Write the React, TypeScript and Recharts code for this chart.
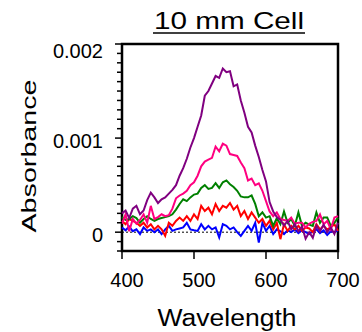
import { LineChart, Line, XAxis, YAxis, ReferenceLine, ReferenceArea } from 'recharts';

// wavelength grid (nm)
const wavelengths = [
  400, 405, 410, 415, 420, 425, 430, 435, 440, 445, 450, 455, 460, 465, 470, 475, 480, 485, 490, 495,
  500, 505, 510, 515, 520, 525, 530, 535, 540, 545, 550, 555, 560, 565, 570, 575, 580, 585, 590, 595,
  600, 605, 610, 615, 620, 625, 630, 635, 640, 645, 650, 655, 660, 665, 670, 675, 680, 685, 690, 695,
  700,
];

// absorbance readings, in units of 0.001
const purple = [
  0.2, 0.23, 0.15, 0.25, 0.28, 0.19, 0.23, 0.34, 0.42, 0.37, 0.31, 0.35, 0.37, 0.41, 0.45, 0.5, 0.6, 0.68, 0.78, 0.9,
  1.0, 1.12, 1.24, 1.45, 1.5, 1.58, 1.66, 1.64, 1.74, 1.7, 1.71, 1.55, 1.57, 1.4, 1.27, 1.12, 1.06, 0.92, 0.8, 0.66,
  0.54, 0.32, 0.22, 0.16, 0.13, 0.07, 0.12, 0.03, 0.085, 0.01, 0.06, -0.07, 0.0, -0.06, 0.07, 0.01, 0.08, 0.0, 0.05, -0.02,
  0.1,
];
const pink = [
  0.09, 0.19, 0.01, 0.14, 0.09, 0.13, 0.19, 0.1, 0.28, 0.14, 0.16, 0.19, 0.17, 0.18, 0.25, 0.36, 0.39, 0.41, 0.44, 0.5,
  0.53, 0.6, 0.7, 0.75, 0.77, 0.79, 0.91, 0.86, 0.94, 0.92, 0.83, 0.82, 0.81, 0.74, 0.68, 0.55, 0.57, 0.5, 0.52, 0.44,
  0.33, 0.22, 0.17, 0.21, 0.14, 0.13, 0.12, 0.155, 0.09, 0.1, 0.1, 0.05, 0.09, 0.11, 0.12, 0.19, 0.085, 0.12, 0.03, 0.155,
  0.17,
];
const green = [
  0.16, 0.13, 0.14, 0.17, 0.15, 0.1, 0.14, 0.17, 0.14, 0.12, 0.14, 0.15, 0.16, 0.17, 0.19, 0.24, 0.3, 0.35, 0.33, 0.37,
  0.4, 0.41, 0.47, 0.5, 0.46, 0.47, 0.52, 0.47, 0.53, 0.55, 0.51, 0.48, 0.44, 0.38, 0.37, 0.37, 0.39, 0.3, 0.17, 0.21,
  0.155, 0.17, 0.067, 0.15, 0.085, 0.22, 0.1, 0.14, 0.067, 0.21, 0.067, 0.1, 0.08, 0.067, 0.21, 0.1, 0.155, 0.155, 0.067, 0.1,
  0.155,
];
const red = [
  0.12, 0.085, 0.14, 0.12, 0.1, 0.067, 0.1, 0.05, 0.085, 0.03, 0.067, 0.03, -0.04, 0.1, 0.067, 0.12, 0.155, 0.12, 0.17, 0.12,
  0.19, 0.14, 0.28, 0.225, 0.26, 0.19, 0.3, 0.225, 0.28, 0.26, 0.31, 0.24, 0.28, 0.17, 0.225, 0.14, 0.21, 0.155, 0.1, 0.14,
  0.067, 0.12, 0.03, 0.1, -0.074, 0.085, 0.014, 0.067, 0.03, 0.067, 0.014, 0.05, 0.04, 0.0, 0.085, 0.03, 0.067, 0.03, 0.05, 0.085,
  0.014,
];
const blue = [
  0.05, 0.02, 0.06, 0.01, 0.03, -0.02, 0.05, 0.014, 0.03, 0.0, 0.03, -0.02, 0.03, 0.067, 0.014, 0.03, 0.04, 0.05, 0.1, 0.03,
  0.02, 0.014, 0.085, 0.03, 0.067, 0.03, 0.05, -0.056, 0.085, 0.067, 0.03, 0.05, 0.0, -0.04, 0.014, 0.067, 0.014, 0.1, -0.11, 0.1,
  0.014, 0.067, -0.02, 0.03, 0.01, -0.02, 0.02, 0.0, 0.03, -0.01, 0.02, 0.0, -0.02, 0.01, 0.03, -0.01, 0.02, -0.03, 0.01, 0.0,
  0.02,
];

const xTicks = [400, 500, 600, 700];
const yTicks = [
  -0.0002, -0.0001, 0, 0.0001, 0.0002, 0.0003, 0.0004, 0.0005, 0.0006, 0.0007, 0.0008, 0.0009,
  0.001, 0.0011, 0.0012, 0.0013, 0.0014, 0.0015, 0.0016, 0.0017, 0.0018, 0.0019, 0.002,
];
const yMajor = [0, 0.001, 0.002];
const yMajorLabels = ['0', '0.001', '0.002'];

const data = wavelengths.map((w, i) => ({
  w,
  purple: purple[i] / 1000,
  pink: pink[i] / 1000,
  green: green[i] / 1000,
  red: red[i] / 1000,
  blue: blue[i] / 1000,
}));

const FONT = '"Liberation Sans", Arial, Helvetica, sans-serif';
const PLOT_LEFT = 122;

function YTick(props: any) {
  const { y, payload } = props;
  const idx = yMajor.findIndex(v => Math.abs(v - payload.value) < 1e-9);
  const major = idx >= 0;
  return (
    <g>
      <line x1={PLOT_LEFT - (major ? 7 : 5)} x2={PLOT_LEFT} y1={y} y2={y} stroke="#000" strokeWidth={1.5} />
      {major && (
        <text x={103} y={Math.max(y + 10, 58)} textAnchor="end" fontSize={20} fontFamily={FONT} fill="#000">
          {yMajorLabels[idx]}
        </text>
      )}
    </g>
  );
}

function XTick(props: any) {
  const { x, payload } = props;
  return (
    <text x={x + 5} y={287} textAnchor="middle" fontSize={20} fontFamily={FONT} fill="#000">
      {payload.value}
    </text>
  );
}

export default function App() {
  return (
    <div style={{ position: 'absolute', left: 0, top: 0, width: 362, height: 332, background: '#fff' }}>
      <LineChart width={362} height={332} data={data} margin={{ top: 44, right: 24, bottom: 51, left: 0 }}>
        <XAxis
          dataKey="w"
          type="number"
          domain={[400, 700]}
          ticks={xTicks}
          interval={0}
          height={30}
          axisLine={false}
          tickSize={8}
          tickLine={{ stroke: '#000', strokeWidth: 1.5 }}
          tick={<XTick />}
        />
        <YAxis
          type="number"
          domain={[-0.0002, 0.002]}
          ticks={yTicks}
          interval={0}
          width={122}
          axisLine={false}
          tickLine={false}
          tickSize={0}
          tickMargin={0}
          tick={<YTick />}
        />
        <ReferenceLine y={0} stroke="#000" strokeWidth={1} strokeDasharray="2 2" />
        <Line type="linear" dataKey="blue" stroke="#0000ff" strokeWidth={2} dot={false} isAnimationActive={false} />
        <Line type="linear" dataKey="red" stroke="#ff0000" strokeWidth={2} dot={false} isAnimationActive={false} />
        <Line type="linear" dataKey="green" stroke="#008000" strokeWidth={2} dot={false} isAnimationActive={false} />
        <Line type="linear" dataKey="pink" stroke="#ff0080" strokeWidth={2} dot={false} isAnimationActive={false} />
        <Line type="linear" dataKey="purple" stroke="#800080" strokeWidth={2} dot={false} isAnimationActive={false} />
        <ReferenceArea x1={400} x2={700} y1={-0.0002} y2={0.002} fill="none" stroke="#000" strokeWidth={2.5} />
      </LineChart>
      <svg width={362} height={332} style={{ position: 'absolute', left: 0, top: 0, pointerEvents: 'none' }}>
        <text x={229} y={29} textAnchor="middle" fontSize={24} fontFamily={FONT} fill="#000" textLength={150} lengthAdjust="spacingAndGlyphs">
          10 mm Cell
        </text>
        <line x1={153} x2={305} y1={33} y2={33} stroke="#000" strokeWidth={1.5} />
        <text
          x={36}
          y={156}
          transform="rotate(-90 36 156)"
          textAnchor="middle"
          fontSize={21}
          fontFamily={FONT}
          fill="#000"
          textLength={153}
          lengthAdjust="spacingAndGlyphs"
        >
          Absorbance
        </text>
        <text x={227} y={326} textAnchor="middle" fontSize={23} fontFamily={FONT} fill="#000" textLength={139} lengthAdjust="spacingAndGlyphs">
          Wavelength
        </text>
      </svg>
    </div>
  );
}
